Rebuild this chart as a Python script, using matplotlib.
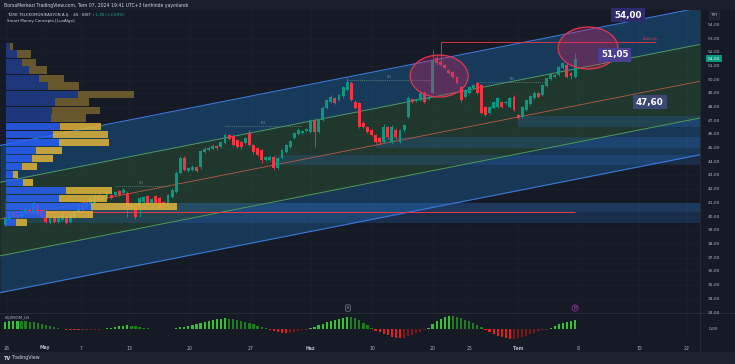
import matplotlib
matplotlib.use("Agg")
import matplotlib.pyplot as plt
import matplotlib.transforms as mtransforms
from matplotlib.patches import Ellipse, Rectangle
from matplotlib.lines import Line2D
import numpy as np

# ---------------- data ----------------
opens = [
    39.38, 39.82, 40.26, 40.11, 39.97, 40.26, 40.55, 40.26, 40.84, 40.48,
    40.11, 39.53, 40.04, 39.60, 39.75, 40.04, 39.60, 39.97, 40.33, 40.84,
    40.62, 40.84, 40.99, 41.57, 41.21, 41.35, 41.57, 41.57, 41.86, 41.72,
    41.72, 40.62, 40.84, 40.48, 41.06, 41.50, 40.92, 41.50, 41.35, 41.06,
    40.84, 41.43, 41.79, 43.18, 44.28, 43.33, 43.40, 43.62, 43.62, 44.72,
    44.86, 44.94, 45.15, 45.08, 45.37, 45.96, 45.89, 45.59, 45.45, 45.37,
    46.10, 45.23, 45.01, 44.86, 44.13, 44.13, 44.35, 43.55, 44.28, 44.72,
    45.08, 45.74, 46.03, 46.10, 46.25, 46.18, 47.06, 46.18, 47.06, 47.93,
    48.37, 48.66, 48.52, 48.81, 49.25, 49.76, 48.37, 48.30, 46.84, 46.54,
    46.32, 45.96, 45.74, 45.45, 46.54, 45.45, 46.32, 45.45, 46.32, 47.27,
    48.59, 48.45, 48.52, 49.03, 48.59, 49.03, 51.59, 51.29, 51.08, 50.71,
    50.56, 50.20, 49.47, 48.74, 49.03, 49.40, 49.76, 49.61, 48.01, 47.57,
    47.93, 48.01, 48.37, 48.30, 48.01, 48.74, 47.42, 47.27, 47.79, 48.23,
    48.66, 49.03, 48.88, 49.54, 50.06, 50.20, 50.34, 50.86, 51.08, 50.49,
    50.20]
closes = [
    39.89, 40.26, 40.04, 39.89, 40.33, 40.62, 40.33, 40.99, 40.11, 39.97,
    39.60, 39.97, 39.60, 40.04, 40.26, 39.53, 40.18, 40.33, 40.84, 40.48,
    40.99, 41.43, 41.57, 41.21, 41.50, 41.72, 41.35, 41.79, 41.57, 41.94,
    40.62, 40.92, 39.97, 41.35, 41.43, 40.92, 41.28, 40.99, 40.70, 40.84,
    41.57, 41.94, 43.18, 44.28, 43.40, 43.55, 43.62, 43.33, 44.79, 44.94,
    45.01, 45.15, 45.01, 45.45, 45.96, 45.67, 45.23, 45.08, 45.08, 45.74,
    45.23, 44.72, 44.50, 44.13, 44.35, 44.35, 43.55, 44.28, 44.86, 45.23,
    45.52, 46.10, 46.32, 46.25, 46.40, 47.06, 46.18, 47.06, 47.93, 48.52,
    48.74, 48.30, 48.88, 49.47, 49.83, 48.52, 47.93, 46.54, 46.54, 46.18,
    45.96, 45.45, 45.45, 46.54, 45.81, 46.54, 45.81, 46.32, 46.69, 48.66,
    48.37, 48.59, 49.03, 48.37, 48.74, 51.44, 51.22, 51.08, 50.86, 50.49,
    50.20, 49.76, 48.52, 49.25, 49.47, 49.61, 49.03, 47.57, 47.42, 48.01,
    48.37, 48.66, 48.01, 48.37, 48.66, 47.79, 47.20, 48.01, 48.52, 48.81,
    49.03, 48.74, 49.61, 50.13, 50.42, 50.34, 50.93, 51.22, 50.20, 50.25,
    51.55]
highs = [
    40.00, 40.40, 40.35, 40.20, 40.45, 40.70, 40.65, 41.10, 40.95, 40.55,
    40.20, 40.05, 40.15, 40.10, 40.35, 40.10, 40.25, 40.45, 40.95, 40.95,
    41.10, 41.50, 41.65, 41.70, 41.60, 41.80, 41.65, 41.90, 41.95, 42.05,
    41.90, 41.00, 40.95, 41.45, 41.50, 41.60, 41.35, 41.60, 41.45, 41.15,
    41.65, 42.05, 43.30, 44.40, 44.40, 43.65, 43.75, 43.70, 44.90, 45.05,
    45.15, 45.30, 45.25, 45.55, 46.10, 46.05, 46.00, 45.70, 45.55, 45.85,
    46.30, 45.30, 45.10, 44.95, 44.45, 44.50, 44.45, 44.35, 44.95, 45.30,
    45.60, 46.20, 46.45, 46.35, 46.50, 47.15, 47.20, 47.15, 48.05, 48.60,
    48.85, 48.75, 48.95, 49.55, 50.13, 49.90, 48.50, 48.40, 46.95, 46.65,
    46.40, 46.05, 45.85, 46.75, 46.65, 46.70, 46.45, 46.40, 46.80, 48.80,
    48.70, 48.70, 49.15, 49.15, 48.85, 52.15, 51.75, 52.75, 51.15, 50.80,
    50.65, 50.30, 49.55, 49.35, 49.55, 49.70, 49.85, 49.70, 48.10, 48.10,
    48.45, 48.75, 48.45, 48.45, 48.75, 48.85, 47.50, 48.10, 48.60, 48.90,
    49.15, 49.10, 49.70, 50.20, 50.50, 50.45, 51.00, 51.30, 51.20, 50.60,
    51.95]
lows = [
    39.30, 39.75, 39.95, 39.80, 39.90, 40.20, 40.25, 40.20, 40.00, 39.90,
    39.50, 39.45, 39.50, 39.50, 39.70, 39.45, 39.50, 39.90, 40.25, 40.40,
    40.55, 40.75, 40.90, 41.10, 41.10, 41.30, 41.25, 41.50, 41.50, 41.65,
    39.97, 40.50, 39.85, 39.97, 41.00, 40.85, 40.85, 40.90, 40.60, 40.75,
    40.75, 41.35, 41.70, 43.10, 43.30, 43.25, 43.30, 43.25, 43.50, 44.65,
    44.80, 44.85, 44.90, 45.00, 45.30, 45.60, 45.15, 45.00, 44.95, 45.30,
    45.15, 44.60, 44.40, 43.90, 44.05, 44.05, 43.40, 43.45, 44.20, 44.65,
    45.00, 45.65, 45.95, 46.00, 46.15, 46.10, 45.08, 46.10, 46.95, 47.85,
    48.30, 48.20, 48.45, 48.70, 49.20, 48.45, 47.85, 46.45, 46.45, 46.10,
    45.90, 45.35, 45.30, 45.35, 45.70, 45.30, 45.70, 45.35, 46.20, 47.20,
    48.30, 48.35, 48.45, 48.30, 48.50, 48.95, 51.10, 51.00, 50.80, 50.40,
    50.10, 49.70, 48.40, 48.65, 48.95, 49.30, 48.95, 47.50, 47.35, 47.50,
    47.85, 47.95, 47.90, 48.20, 47.95, 47.70, 47.10, 47.20, 47.70, 48.15,
    48.60, 48.65, 48.80, 49.45, 49.95, 50.10, 50.25, 50.80, 50.10, 50.05,
    50.10]

# squeeze momentum histogram (one value per bar)
sqz_mom = [
    7.5, 8.0, 8.5, 8.7, 8.5, 8.0, 7.5, 7.0, 6.5, 5.5, 4.5, 3.5, 2.5, 1.5, 0.8,
    -0.5, -0.8, -1.0, -1.1, -1.0, -0.9, -0.7, -0.4, -0.2, 0.1,
    1.0, 1.8, 2.5, 3.2, 3.8, 4.0, 3.5, 3.0, 2.5,
    1.5, 1.0, 0.8, 0.5, 0.3, 0.2, 0.3, 0.6,
    1.0, 2.0, 2.8, 3.5, 4.5, 5.5, 6.5, 7.5, 8.5, 9.5, 10.2, 10.8, 11.0, 10.8,
    10.3, 9.5, 8.7, 7.8, 6.5, 5.0, 3.5, 2.0, 1.0,
    -0.3, -1.5, -2.5, -3.3, -3.8, -3.5, -3.0, -2.0, -1.0, -0.3,
    1.0, 2.5, 4.0, 5.5, 7.0, 8.5, 9.5, 10.8, 11.8, 12.7, 12.3, 11.0, 9.0, 6.5, 4.0, 1.5,
    -1.5, -3.0, -4.5, -6.0, -7.5, -8.5, -9.0, -8.5, -7.0, -5.5, -4.0, -2.5, -1.0,
    1.5, 5.0, 8.0, 10.5, 12.5, 13.7, 13.5, 12.5, 11.0, 9.5, 8.0, 6.0, 4.0, 2.0,
    -1.0, -3.0, -5.0, -6.5, -8.0, -9.0, -9.7, -9.5, -9.0, -8.0, -6.5, -5.0, -3.5, -2.0, -1.0, -0.3,
    1.5, 3.5, 5.0, 6.5, 7.5, 8.0, 9.0]

# volume profile rows (bottom price of row, up volume, down volume)
prof_bottoms = [39.30, 39.89, 40.47, 41.06, 41.64, 42.23, 42.81, 43.40, 43.98, 44.57,
                45.15, 45.74, 46.32, 46.91, 47.49, 48.08, 48.66, 49.25, 49.83, 50.42,
                51.00, 51.59, 52.17]
prof_up = [10, 40, 85, 53, 60, 16.7, 7.3, 15.7, 26.3, 29.7, 53, 47.3, 54, 44.7,
           45.7, 49, 72.3, 41.7, 33.3, 23, 15.7, 11.3, 4]
prof_down = [10.7, 47.3, 85.7, 47.7, 45.7, 10.7, 4.3, 15, 20.3, 26, 50, 54.3, 40.7,
             35.3, 48.3, 34.3, 56, 31.3, 24.7, 17.7, 14.3, 13.3, 3]
prof_row = 0.585
value_area_high = 46.91

# regression channel (price at bar 0, slope per bar, deviation step)
chan_base = 39.89
chan_slope = 0.0586
chan_dev = 2.69

# order-block / zone boxes
zone_start = [126, 91, 66, 0, 0]
zone_low = [46.55, 45.00, 43.80, 40.35, 39.50]
zone_high = [47.35, 45.80, 44.50, 41.00, 40.33]
zone_alpha = [0.20, 0.20, 0.18, 0.30, 0.20]

# structure lines
bos_level = [42.25, 46.60, 49.98, 49.85]
bos_from = [27, 54, 84, 116]
bos_to = [40, 73, 105, 133]
weak_high = 52.75
weak_high_from = 107
red_level = 40.33

# target labels
target_text = ['54,00', '51,05', '47,60']
target_x = [153.0, 149.8, 158.4]
target_y = [54.73, 51.81, 48.37]
target_col = ['#2e2b6c', '#4b3f92', '#3b4870']

# x axis
tick_pos = [0.4, 9.7, 18.6, 30.4, 45.4, 60.4, 75.1, 90.1, 105.1, 114.0, 126.0, 140.7, 155.7, 167.5]
tick_lab = ['26', 'May', '7', '13', '20', '27', 'Haz', '10', '20', '25', 'Tem', '8', '15', '22']
price_ticks = list(range(34, 55))
last_price = 51.55

# ---------------- layout ----------------
W, H = 735, 364
BG = '#161a25'
TXT = '#b2b5be'
XMIN, XMAX = -1.28, 170.7
fig = plt.figure(figsize=(W / 100, H / 100), dpi=100)
fig.patch.set_facecolor(BG)

ax = fig.add_axes([0, 1 - 312 / H, 700 / W, 302 / H])
axo = fig.add_axes([0, 1 - 339 / H, 700 / W, 26 / H])
for a in (ax, axo):
    a.set_facecolor(BG)
    for s in a.spines.values():
        s.set_visible(False)
    a.set_xlim(XMIN, XMAX)
    a.tick_params(left=False, right=False, bottom=False, top=False,
                  labelleft=False, labelbottom=False)
ax.set_ylim(33.02, 55.10)
axo.set_ylim(-9.7, 16.3)

# grid
for p in price_ticks:
    ax.axhline(p, color='#1d212d', lw=0.5, zorder=0)
for t in tick_pos:
    ax.axvline(t, color='#1d212d', lw=0.5, zorder=0)
    axo.axvline(t, color='#1d212d', lw=0.5, zorder=0)

# channel
xs = np.array([XMIN, XMAX])
center = chan_base + chan_slope * xs
lv = {k: center + k * chan_dev for k in (-2, -1, 0, 1, 2)}
ax.fill_between(xs, lv[1], lv[2], color='#2196f3', alpha=0.26, lw=0, zorder=1)
ax.fill_between(xs, lv[-1], lv[1], color='#4caf50', alpha=0.20, lw=0, zorder=1)
ax.fill_between(xs, lv[-2], lv[-1], color='#2196f3', alpha=0.24, lw=0, zorder=1)
ax.plot(xs, lv[2], color='#3a78d8', lw=0.8, zorder=3)
ax.plot(xs, lv[-2], color='#3a78d8', lw=0.8, zorder=3)
ax.plot(xs, lv[1], color='#4e9a5e', lw=0.7, zorder=3)
ax.plot(xs, lv[-1], color='#4e9a5e', lw=0.7, zorder=3)
ax.plot(xs, lv[0], color='#b85a48', lw=0.6, zorder=3)

# zones
for s, lo, hi, al in zip(zone_start, zone_low, zone_high, zone_alpha):
    ax.add_patch(Rectangle((s, lo), XMAX - s, hi - lo, fc='#2f7de1', alpha=al, lw=0, zorder=2))

n = len(opens)
idx = np.arange(n)
o = np.array(opens); c = np.array(closes); h = np.array(highs); l = np.array(lows)

ax.hlines(red_level, 0, n - 1, color='#f23645', lw=0.7, zorder=3)
ax.hlines(weak_high, weak_high_from, 160, color='#f23645', lw=0.6, zorder=3)
ax.text(160, weak_high + 0.08, 'Weak High', color='#f23645', fontsize=1.8,
        ha='right', va='bottom', zorder=3)
for lev, a0, a1 in zip(bos_level, bos_from, bos_to):
    ax.hlines(lev, a0, a1, color='#5f8f80', lw=0.5, linestyles=(0, (1.5, 1.5)), zorder=3)
    ax.text((a0 + a1) / 2, lev + 0.08, 'BOS', color='#5f8f80', fontsize=1.8,
            ha='center', va='bottom', zorder=3)

# candles
up = c >= o
col = np.where(up, '#089981', '#f23645')
ax.vlines(idx, np.minimum(l, np.minimum(o, c)), np.maximum(h, np.maximum(o, c)),
          colors=col, lw=0.6, zorder=4)
ax.bar(idx, np.maximum(np.abs(c - o), 0.05), bottom=np.minimum(o, c), width=0.72,
       color=col, lw=0, zorder=4)

# volume profile
px_per_bar = 4.07
pb = np.array(prof_bottoms); pu = np.array(prof_up); pd_ = np.array(prof_down)
bright = pb < value_area_high
left0 = 0.2
for b, u, d, br in zip(pb, pu, pd_, bright):
    ya = b + prof_row * 0.06
    hh = prof_row * 0.88
    ax.add_patch(Rectangle((left0, ya), u / px_per_bar, hh, fc='#2962ff',
                           alpha=0.80 if br else 0.40, lw=0, zorder=5))
    ax.add_patch(Rectangle((left0 + u / px_per_bar, ya), d / px_per_bar, hh, fc='#e0b43a',
                           alpha=0.85 if br else 0.40, lw=0, zorder=5))

# ellipses
for cx, cy, ww, hh in [(106.6, 50.27, 14.25, 3.07), (143.2, 52.32, 14.7, 3.07)]:
    ax.add_patch(Ellipse((cx, cy), ww, hh, fc='#e91e63', alpha=0.30, lw=0, zorder=6))
    ax.add_patch(Ellipse((cx, cy), ww, hh, fc='none', ec='#e0364f', lw=0.9, zorder=6))

# target labels
for t, x, y, cc in zip(target_text, target_x, target_y, target_col):
    ax.text(x, y, t, color='white', fontsize=6.3, fontweight='bold', ha='center',
            va='center', zorder=7,
            bbox=dict(boxstyle='square,pad=0.32', fc=cc, ec='none'))

# price axis
trans = mtransforms.blended_transform_factory(ax.transAxes, ax.transData)
for p in price_ticks:
    ax.text(714 / 700, p, f'{p},00', transform=trans, color=TXT, fontsize=3.2,
            ha='center', va='center', clip_on=False)
ax.text(714 / 700, last_price, f'{last_price:.2f}'.replace('.', ','), transform=trans,
        color='white', fontsize=3.2, ha='center', va='center', clip_on=False, zorder=8,
        bbox=dict(boxstyle='square,pad=0.35', fc='#089981', ec='none'))
fig.text(714 / W, 1 - 15 / H, 'TRY', color=TXT, fontsize=3.0, ha='center', va='center',
         bbox=dict(boxstyle='square,pad=0.4', fc='#1e222d', ec='#2a2e39', lw=0.5))
fig.text(714 / W, 1 - 313 / H, '33,00', color=TXT, fontsize=3.2, ha='center', va='center')
transo = mtransforms.blended_transform_factory(axo.transAxes, axo.transData)
axo.text(714 / 700, 0, '0,00', transform=transo, color=TXT, fontsize=3.2,
         ha='center', va='center', clip_on=False)

# oscillator
m = np.array(sqz_mom)
prev = np.r_[m[0], m[:-1]]
ocol = np.where(m >= 0, np.where(m >= prev, '#36c136', '#1f7d1f'),
                np.where(m <= prev, '#e02020', '#7d1818'))
axo.bar(idx, m, width=0.55, color=ocol, lw=0, zorder=3)
axo.scatter(idx, np.zeros(n), s=0.35, color='#6a6d78', marker='s', lw=0, zorder=4)
axo.text(0.007, 0.82, 'SQZMOM_LB', transform=axo.transAxes, color=TXT, fontsize=2.8,
         ha='left', va='center')

# date labels
transd = mtransforms.blended_transform_factory(axo.transData, fig.transFigure)
for t, lab in zip(tick_pos, tick_lab):
    axo.text(t, 1 - 348 / H, lab, transform=transd, color=TXT, fontsize=3.3,
             ha='center', va='center', clip_on=False,
             fontweight='bold' if not lab.isdigit() else 'normal')

# event markers
transe = mtransforms.blended_transform_factory(ax.transData, fig.transFigure)
ax.text(84.2, 1 - 308 / H, 'E', transform=transe, color=TXT, fontsize=2.6, ha='center',
        va='center', zorder=8, bbox=dict(boxstyle='round,pad=0.35', fc=BG, ec='#787b86', lw=0.5))
ax.text(140, 1 - 308 / H, 'D', transform=transe, color='#ce93d8', fontsize=2.6, ha='center',
        va='center', zorder=8, bbox=dict(boxstyle='circle,pad=0.3', fc=BG, ec='#9c27b0', lw=0.6))

# frame pieces
fig.add_artist(Rectangle((0, 1 - 10 / H), 1, 10 / H, transform=fig.transFigure,
                         fc='#1b1f2a', lw=0, zorder=-1))
fig.add_artist(Rectangle((0, 0), 1, 12 / H, transform=fig.transFigure,
                         fc='#1e222d', lw=0, zorder=-1))
fig.add_artist(Line2D([0, 1], [1 - 312.5 / H] * 2, transform=fig.transFigure,
                      color='#2a2e39', lw=0.6))
fig.add_artist(Line2D([700 / W] * 2, [12 / H, 1 - 10 / H], transform=fig.transFigure,
                      color='#2a2e39', lw=0.6))

fig.text(4 / W, 1 - 5 / H,
         'BorsaMerkezi TradingView.com, Tem 07, 2024 19:41 UTC+3 tarihinde yayınlandı',
         color='#d1d4dc', fontsize=3.3, ha='left', va='center')
fig.text(7 / W, 1 - 15 / H, 'TÜRK TELEKOMÜNİKASYON A.Ş. · 4S · BIST', color='#d1d4dc',
         fontsize=2.9, ha='left', va='center')
fig.text(92 / W, 1 - 15 / H, '+1,30 (+2,59%)', color='#22ab94', fontsize=2.9,
         ha='left', va='center')
fig.text(7 / W, 1 - 21 / H, 'Smart Money Concepts [LuxAlgo]', color='#d1d4dc',
         fontsize=2.9, ha='left', va='center')
fig.text(4 / W, 1 - 358 / H, 'TV', color='#d1d4dc', fontsize=3.6, fontweight='bold',
         ha='left', va='center')
fig.text(12 / W, 1 - 358 / H, 'TradingView', color='#d1d4dc', fontsize=3.4,
         ha='left', va='center')

fig.savefig('out.png', dpi=100, facecolor=BG)
